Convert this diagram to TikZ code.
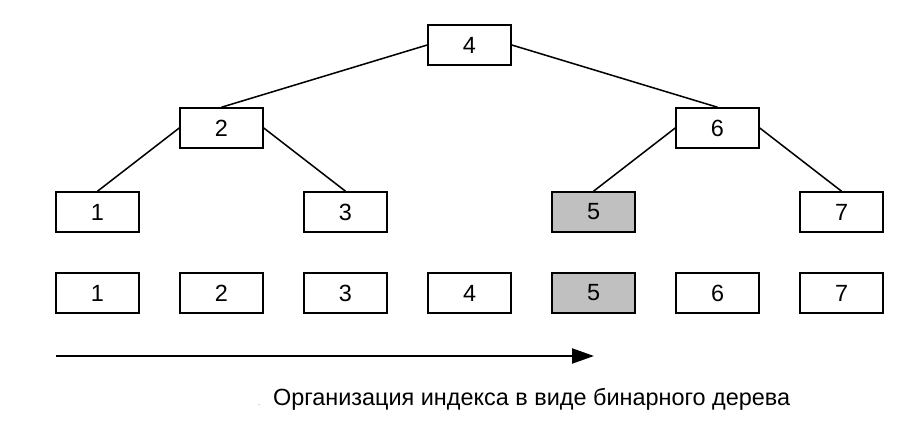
\documentclass[tikz,border=0pt]{standalone}
\usepackage{fontspec}
\setmainfont{Liberation Sans}
\usepackage{tikz}
\usetikzlibrary{arrows.meta, positioning}
\definecolor{keygray}{RGB}{192,192,192}

\begin{document}
\begin{tikzpicture}[x=0.03cm, y=-0.03cm, node distance=3.72cm, >={Triangle[length=0.66cm, width=0.45cm]},
    key/.style={draw, line width=1.3pt, rectangle, minimum width=2.49cm, minimum height=1.2cm, inner sep=0pt, font=\fontsize{20}{24}\selectfont},
    hit/.style={key, fill=keygray},
    edge/.style={line width=1.3pt}]
    \useasboundingbox (0,0) rectangle (921,432);
    % tree
    \node [key] (t4) at (469.5,45) {4};
    \node [key] (t2) at (221.5,128) {2};
    \node [key] (t6) at (717.5,128) {6};
    \node [key] (t1) at (97.5,212) {1};
    \node [key, right of=t1, node distance=7.44cm] (t3) {3};
    \node [hit, right of=t3, node distance=7.44cm] (t5) {5};
    \node [key, right of=t5, node distance=7.44cm] (t7) {7};
    % sorted keys
    \node [key] (k1) at (97.5,293) {1};
    \node [key, right of=k1] (k2) {2};
    \node [key, right of=k2] (k3) {3};
    \node [key, right of=k3] (k4) {4};
    \node [hit, right of=k4] (k5) {5};
    \node [key, right of=k5] (k6) {6};
    \node [key, right of=k6] (k7) {7};
    \coordinate (start) at (56,356);
    \coordinate (stop) at (594,356);
    \node [font=\fontsize{20}{24}\selectfont] (caption) at (524,399) {{\color{black!40}\fontsize{8}{10}\selectfont.}\, Организация индекса в виде бинарного дерева};

    \draw [edge] (t4.west) -- (t2.north);
    \draw [edge] (t4.east) -- (t6.north);
    \draw [edge] (t2.west) -- (t1.north);
    \draw [edge] (t2.east) -- (t3.north);
    \draw [edge] (t6.west) -- (t5.north);
    \draw [edge] (t6.east) -- (t7.north);
    \draw [->, line width=1.8pt] (start) -- (stop);
\end{tikzpicture}
\end{document}
